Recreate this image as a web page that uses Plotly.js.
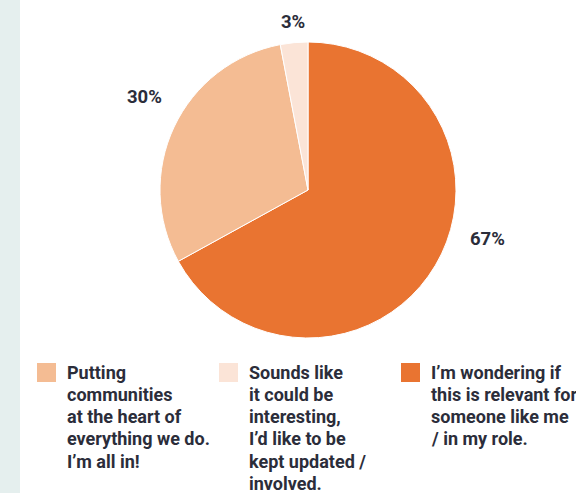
<!DOCTYPE html>
<html><head><meta charset="utf-8">
<script src="https://cdn.plot.ly/plotly-3.0.1.min.js"></script>
<style>html,body{margin:0;padding:0;background:#fff}#chart{width:576px;height:493px}</style>
</head><body><div id="chart"></div>
<script>
// Pie data, in clockwise order from 12 o'clock
const labels = ["I’m wondering if<br>this is relevant for<br>someone like me<br>/ in my role.",
                "Putting<br>communities<br>at the heart of<br>everything we do.<br>I’m all in!",
                "Sounds like<br>it could be<br>interesting,<br>I’d like to be<br>kept updated /<br>involved."];
const values = [67, 30, 3];
const colors = ["#E97431", "#F4BC93", "#FBE4D7"];
// Legend order (indices into the arrays above)
const legendOrder = [1, 2, 0];

const W = 576, H = 493;
const px = x => x / W, py = y => 1 - y / H;
const textColor = "#2B2D3A";
const font = "Roboto, 'Liberation Sans', Arial, sans-serif";

const total = values.reduce((a, b) => a + b, 0);
// percentage label positions (pixel anchors)
const pctPos = [[487, 239], [144, 97], [293, 22]];

const shapes = [{type: "rect", xref: "paper", yref: "paper", x0: 0, x1: px(20), y0: 0, y1: 1,
                 fillcolor: "#E5EFEE", line: {width: 0}, layer: "below"}];
const annotations = [];
values.forEach((v, i) => {
  annotations.push({xref: "paper", yref: "paper", x: px(pctPos[i][0]), y: py(pctPos[i][1]),
    xanchor: "center", yanchor: "middle", showarrow: false,
    text: Math.round(v / total * 100) + "%",
    font: {family: font, size: 18.5, color: textColor, weight: 700}});
});
const legX = [37, 219, 401];
const lineStep = 22.3;
legendOrder.forEach((idx, k) => {
  const x0 = legX[k];
  shapes.push({type: "rect", xref: "paper", yref: "paper", x0: px(x0), x1: px(x0 + 19),
    y0: py(382), y1: py(363), fillcolor: colors[idx], line: {width: 0}});
  labels[idx].split("<br>").forEach((line, j) => {
    annotations.push({xref: "paper", yref: "paper", x: px(x0 + 28), y: py(359.5 + j * lineStep),
      xanchor: "left", yanchor: "top", align: "left", showarrow: false,
      text: line, font: {family: font, size: 18, color: textColor, weight: 700}});
  });
});

const trace = {type: "pie", labels: labels, values: values, sort: false, direction: "clockwise",
  rotation: 0, textinfo: "none", hoverinfo: "none",
  marker: {colors: colors, line: {color: "#ffffff", width: 1}},
  domain: {x: [px(160), px(456)], y: [py(338), py(42)]}, showlegend: false};

Plotly.newPlot("chart", [trace], {
  width: W, height: H, margin: {l: 0, r: 0, t: 0, b: 0},
  paper_bgcolor: "#ffffff", showlegend: false,
  shapes: shapes, annotations: annotations
}, {staticPlot: true});
</script></body></html>
